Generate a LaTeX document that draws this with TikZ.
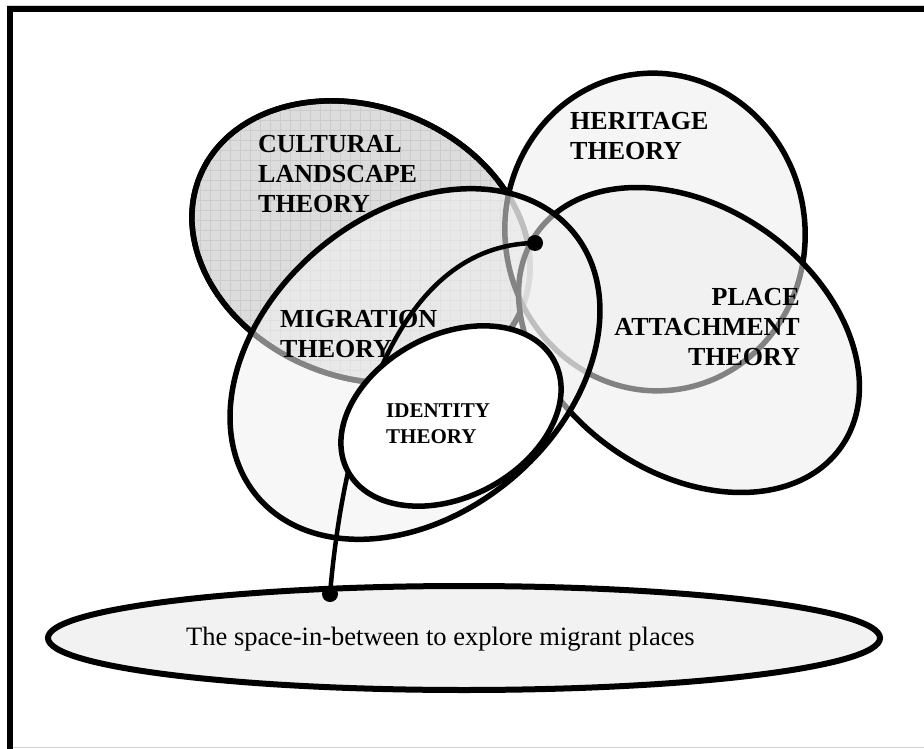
\documentclass[tikz,border=0pt]{standalone}
\usepackage{fontspec}
\setmainfont{Liberation Serif}
\usetikzlibrary{shapes.geometric}
\definecolor{cultfill}{HTML}{DCDCDC}
\definecolor{cultgrid}{HTML}{CBCBCB}
\definecolor{softfill}{HTML}{EEEEEE}
\definecolor{basefill}{HTML}{F2F2F2}
\definecolor{edgegray}{HTML}{D4D4D4}
\begin{document}
\begin{tikzpicture}[x=1pt, y=-1pt,
  theory/.style={shape=ellipse, draw=black, line width=5.5pt, inner sep=0pt},
  veil/.style={fill=softfill, fill opacity=0.55},
  tlabel/.style={font=\bfseries\fontsize{26}{30}\selectfont, inner sep=0pt, text=black},
  smalllabel/.style={font=\bfseries\fontsize{21}{26}\selectfont, inner sep=0pt, text=black},
  link/.style={draw=black, line width=4.5pt, line cap=round},
  dotnode/.style={circle, fill=black, inner sep=0pt, minimum size=16pt}
]
\useasboundingbox (0,0) rectangle (924,749);
\fill[white] (0,0) rectangle (924,749);

% frame: heavy top and left rules, faint outer rules
\draw[edgegray, line width=1.2pt] (7,5.5) -- (924,5.5);
\draw[edgegray, line width=1.5pt] (7,747.5) -- (924,747.5);
\draw[black, line width=6pt] (6.5,9.5) -- (924,9.5);
\draw[black, line width=6pt] (9.5,6.5) -- (9.5,749);

% cultural landscape: solid grey with a fine grid
\node[theory, fill=cultfill, minimum width=348pt, minimum height=270pt, rotate=-22] (cult) at (361,242) {};
\begin{scope}
  \clip[rotate around={-22:(361,242)}] (361,242) ellipse [x radius=172pt, y radius=133pt];
  \draw[cultgrid, line width=0.6pt] (180,90) grid[step=10pt] (560,400);
\end{scope}
\draw[black, line width=5.5pt, rotate around={-22:(361,242)}] (361,242) ellipse [x radius=174pt, y radius=135pt];

% heritage and place attachment, semi-transparent
\node[theory, veil, minimum width=300pt, minimum height=318pt, rotate=8] (heri) at (655,232) {};
\node[theory, veil, minimum width=372pt, minimum height=266pt, rotate=-35] (place) at (689,340) {};

% migration, semi-transparent over the others
\node[theory, fill=basefill, fill opacity=0.55, minimum width=412pt, minimum height=300pt, rotate=40] (migr) at (415,364) {};

% connector between the two dots
\coordinate (ptop) at (535,243);
\coordinate (pbot) at (330,594);
\draw[link] (ptop) .. controls (400,245) and (345,420) .. (pbot);

% identity, opaque white
\node[theory, fill=white, minimum width=234pt, minimum height=162pt, rotate=28] (iden) at (451,416) {};

% base ellipse
\node[theory, fill=basefill, line width=6pt, minimum width=832pt, minimum height=104pt] (space) at (464,638) {};

\node[dotnode] (dtop) at (ptop) {};
\node[dotnode] (dbot) at (pbot) {};

% labels
\node[tlabel, align=left, anchor=north west] (tcult) at (258,135) {CULTURAL\\LANDSCAPE\\THEORY};
\node[tlabel, align=left, anchor=north west] (theri) at (570,112) {HERITAGE\\THEORY};
\node[tlabel, align=left, anchor=north west] (tmigr) at (280,310) {MIGRATION\\THEORY};
\node[tlabel, align=right, anchor=north east] (tplace) at (800,288) {PLACE\\ATTACHMENT\\THEORY};
\node[smalllabel, align=left, anchor=north west] (tiden) at (386,404) {IDENTITY\\THEORY};
\node[font=\fontsize{26.5}{30}\selectfont, inner sep=0pt, anchor=base west] (tspace) at (186,645) {The space-in-between to explore migrant places};
\end{tikzpicture}
\end{document}
